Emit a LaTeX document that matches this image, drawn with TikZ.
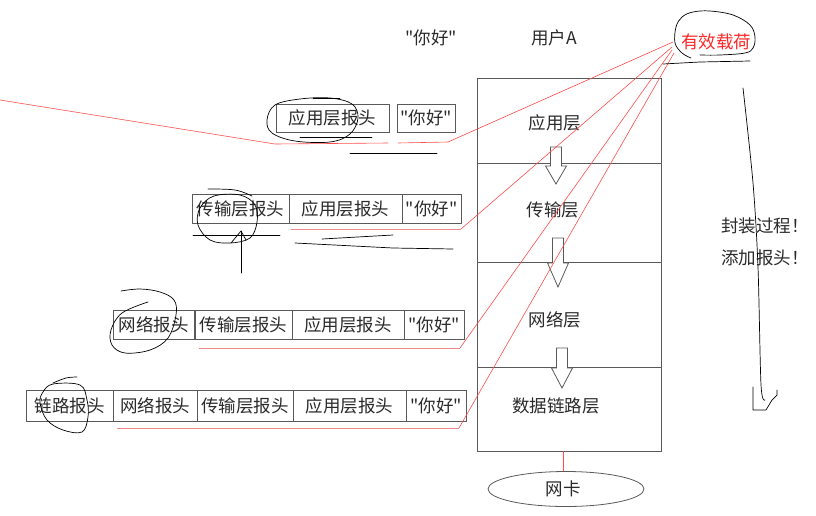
\documentclass[tikz,border=0pt]{standalone}
\usepackage{fontspec}
\setmainfont{Noto Sans CJK SC}[Ligatures=TeXOff]
\usetikzlibrary{shapes.geometric}
\definecolor{boxgray}{HTML}{5A5A5A}
\definecolor{redline}{HTML}{FF4D4D}
\definecolor{pinkline}{HTML}{F08A8A}
\definecolor{txt}{HTML}{2A2A2A}
\newcommand\hollowdown[4]{%
  \draw[draw=boxgray,fill=white,line width=0.8pt]
    (#1-5.5,#2) -- (#1+5.5,#2) -- (#1+5.5,#3) -- (#1+10.5,#3) -- (#1,#4)
    -- (#1-10.5,#3) -- (#1-5.5,#3) -- cycle;}
\begin{document}
\begin{tikzpicture}[x=1pt,y=-1pt,
  pbox/.style={draw=boxgray,line width=0.9pt,inner sep=0pt,minimum width=#1,
    font=\fontsize{17.5}{19}\selectfont,text=txt},
  layer/.style={draw=boxgray,line width=0.9pt,minimum width=184pt,inner sep=0pt,minimum height=#1},
  lbl/.style={font=\fontsize{17.5}{19}\selectfont,text=txt,inner sep=0pt},
  hand/.style={draw=black,line width=0.7pt,line cap=round,line join=round},
  redl/.style={draw=redline,line width=0.6pt},
  pinkl/.style={draw=pinkline,line width=0.9pt}]
\useasboundingbox (0,0) rectangle (816,515);
% protocol stack
\node[layer=85] (l1) at (569,120.5) {};
\node[layer=99] (l2) at (569,212.5) {};
\node[layer=105] (l3) at (569,314.5) {};
\node[layer=84] (l4) at (569,409) {};
\hollowdown{556}{147}{166}{184}
\hollowdown{558}{238}{263}{287}
\hollowdown{562}{348}{368}{388}
\node[lbl] (t1) at (555,123) {应用层};
\node[lbl] (t2) at (553,210) {传输层};
\node[lbl] (t3) at (555,320) {网络层};
\node[lbl] (t4) at (556,406) {数据链路层};
\node[draw=boxgray,line width=0.8pt,ellipse,minimum width=156pt,minimum height=35pt,inner sep=0pt] (nic) at (566,489) {};
\node[lbl] (nict) at (563,489) {网卡};
\draw[redl] (l4.south -| 563,0) -- (nic.north -| 563,0);
% top labels
\node[lbl] (hello) at (431,38) {"你好"};
\node[lbl] (userA) at (554,38) {用户A};
\node[lbl,text=red!85!white] (pl) at (716,42) {有效载荷};
\node[lbl] (enc1) at (765,226) {封装过程！};
\node[lbl] (enc2) at (765,258) {添加报头！};
% packet rows
\begin{scope}[every node/.append style={minimum height=28pt}]
\node[pbox=113pt] (a1) at (332.5,118) {应用层报头};
\node[pbox=58pt] (n1) at (426,118) {"你好"};
\end{scope}
\begin{scope}[every node/.append style={minimum height=29pt}]
\node[pbox=97pt] (t2b) at (240.5,208.5) {传输层报头};
\node[pbox=113pt] (a2) at (345.5,208.5) {应用层报头};
\node[pbox=59pt] (n2) at (431.5,208.5) {"你好"};
\node[pbox=81pt] (w3) at (153.5,324.5) {网络报头};
\node[pbox=97pt] (t3b) at (243.5,324.5) {传输层报头};
\node[pbox=112pt] (a3) at (348,324.5) {应用层报头};
\node[pbox=60pt] (n3) at (434,324.5) {"你好"};
\end{scope}
\begin{scope}[every node/.append style={minimum height=31pt}]
\node[pbox=87pt] (k4) at (69.5,405.5) {链路报头};
\node[pbox=84pt] (w4) at (155,405.5) {网络报头};
\node[pbox=96pt] (t4b) at (245,405.5) {传输层报头};
\node[pbox=113pt] (a4) at (349.5,405.5) {应用层报头};
\node[pbox=60pt] (n4) at (436,405.5) {"你好"};
\end{scope}
% red lines to payload
\coordinate (c1) at (673,42);
\coordinate (c2) at (672,47);
\coordinate (c3) at (672,50);
\coordinate (c4) at (674,53);
\coordinate (s1) at (0,100);
\draw[redl] (s1) -- (275,144) -- (388,143);
\draw[redl] (398,143) -- (448,142) -- (c1);
\draw[pinkl] (291,229) -- (461,229);
\draw[redl] (461,229) -- (c2);
\draw[pinkl] (199,348) -- (460,348);
\draw[redl] (460,348) -- (c3);
\draw[pinkl] (117,428) -- (459,428);
\draw[redl] (459,428) -- (c4);
% hand-drawn marks
\draw[hand] plot[smooth cycle,tension=0.6] coordinates {(267,120) (275,105) (300,99) (330,98) (352,104) (358,118) (350,134) (330,142) (295,141) (272,133)};
\draw[hand] (313,98) -- (340,98);
\draw[hand] (300,137) -- (372,137);
\draw[hand] (350,153) -- (437,153);
\draw[hand] plot[smooth cycle,tension=0.6] coordinates {(214,196) (240,195) (255,205) (257,222) (250,238) (230,243) (210,240) (198,225) (200,208)};
\draw[hand] plot[smooth,tension=0.6] coordinates {(208,189) (235,190) (252,196)};
\draw[hand] (193,235) -- (280,235);
\coordinate (upbot) at (241,273);
\coordinate (uptip) at (241,231);
\draw[hand] (upbot) -- (uptip);
\draw[hand] (231,243) -- (uptip) -- (246,240);
\draw[hand] (322,239) -- (393,235);
\draw[hand] (295,243) -- (393,248) -- (453,249);
\draw[hand] plot[smooth,tension=0.6] coordinates {(148,302) (122,313) (111,330) (112,345) (125,353) (150,350) (168,338) (176,315) (174,300) (160,292) (140,289) (121,291)};
\draw[hand] plot[smooth cycle,tension=0.6] coordinates {(53,384) (80,385) (87,400) (88,417) (82,432) (63,430) (47,420) (40,403) (43,392)};
\draw[hand] plot[smooth,tension=0.6] coordinates {(53,383) (66,378) (77,377)};
\draw[hand] plot[smooth,tension=0.6] coordinates {(691,58) (682,53) (675,43) (676,27) (682,17) (693,12) (710,11) (733,15) (750,25) (755,37) (753,48) (745,53) (720,55) (700,55)};
\draw[hand] (663,64) -- (700,62) -- (750,61);
\draw[hand] plot[smooth,tension=0.5] coordinates {(743,88) (753,183) (758,267) (761,385) (765,400)};
\draw[hand] (753,387) -- (753,410) -- (766,410) -- (772,400) -- (777,395) -- (777,390);
\end{tikzpicture}
\end{document}
